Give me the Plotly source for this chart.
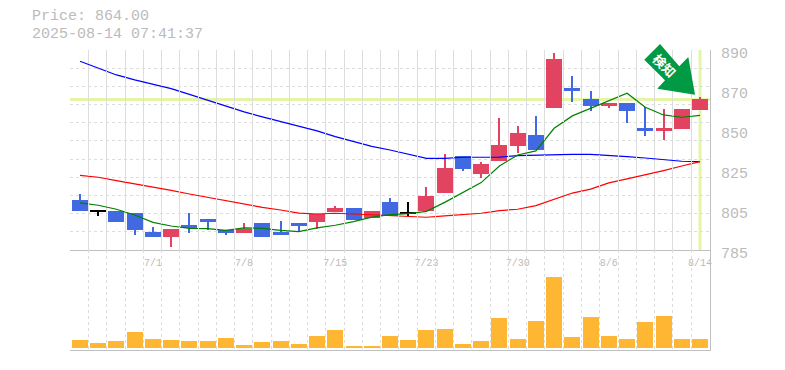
import plotly.graph_objects as go

# ---- data ----
dates = ["6/25","6/26","6/27","6/30","7/1","7/2","7/3","7/4","7/7","7/8","7/9","7/10","7/11","7/14","7/15",
         "7/16","7/17","7/18","7/22","7/23","7/24","7/25","7/28","7/29","7/30","7/31","8/1","8/4","8/5","8/6",
         "8/7","8/8","8/12","8/13","8/14"]
opens = [811.2,805.3,805.3,804.4,794.5,791.8,798.1,801.3,795.5,794.0,799.2,794.5,799.2,799.7,805.0,
         807.0,801.8,810.2,804.3,805.5,814.9,834.4,824.9,831.7,839.6,845.4,859.6,870.0,864.3,860.6,
         862.2,849.0,847.5,848.5,858.5]
highs = [814.4,805.3,805.3,804.4,797.1,796.0,804.4,801.3,795.5,799.2,799.2,800.2,799.2,803.9,808.1,
         807.0,805.5,812.3,810.2,818.1,835.4,834.4,831.2,854.3,850.0,855.4,888.4,876.4,868.5,862.2,
         862.2,860.0,859.0,859.0,865.3]
lows = [805.5,803.0,799.7,792.9,791.8,786.6,794.0,795.5,792.9,794.0,791.8,792.9,794.6,795.9,805.0,
        800.8,801.8,802.9,802.9,805.5,814.9,826.5,822.8,831.7,835.9,837.5,859.6,862.7,858.0,859.6,
        851.7,844.9,842.8,848.5,858.5]
closes = [805.5,805.3,799.7,795.5,791.8,796.0,796.5,799.7,794.0,796.0,791.8,792.9,797.6,803.9,807.0,
          800.8,805.5,802.9,804.3,813.4,828.0,827.5,830.2,840.1,846.4,837.5,885.3,868.5,860.6,862.2,
          858.0,847.5,849.0,859.0,864.3]
ma_short = [809.7,808.5,806.4,803.4,799.5,797.6,796.4,796.2,795.3,796.6,796.4,795.3,794.6,796.6,798.0,
            799.9,802.3,803.6,804.1,805.3,810.0,815.1,820.4,829.1,834.9,837.0,848.9,855.4,859.4,863.2,
            867.3,859.9,855.9,854.7,855.7]
ma_mid = [824.2,823.2,821.4,819.8,817.9,816.3,814.4,812.7,810.7,809.0,807.4,806.0,804.4,803.9,804.3,
          803.9,803.4,803.0,802.7,802.2,802.9,803.7,804.3,805.7,806.4,808.3,811.8,814.9,817.0,820.2,
          822.3,824.4,826.7,829.1,831.4]
ma_long = [884.1,880.4,876.9,874.3,872.0,869.7,866.7,863.6,860.3,857.5,854.9,852.4,849.9,847.5,844.5,
           841.9,839.4,837.5,835.4,833.1,833.1,833.7,833.7,833.8,834.5,834.7,835.2,835.2,835.2,834.7,
           834.0,833.3,832.4,831.6,831.4]
volumes = [8,5,7,16,9,8,7,7,10,3,6,7,4,12,18,2,2,12,8,18,19,4,7,30,9,27,71,11,31,12,9,26,32,9,9]
price = 864.00
stamp = "2025-08-14 07:41:37"
tick_dates = ["7/1","7/8","7/15","7/23","7/30","8/6","8/14"]
price_ticks = [785, 806, 827, 848, 869, 890]
price_tick_text = ["785", "805", "825", "850", "870", "890"]
alert_label = "検知"

# ---- styling ----
RED, BLUE, BLACK = "#E24361", "#4169E1", "#000000"
GRID, AXIS, TEXT = "#DDDDDD", "#C0C0C0", "#BBBBBB"
HILITE = "#E4F5A8"
MONO = "Liberation Mono, monospace"

n = len(dates)
idx = list(range(n))
PX_STEP = 18.235            # pixels per session
X0 = 80.0                   # pixel centre of session 0
to_x = lambda px: (px - X0) / PX_STEP
px_x = lambda px: (px - 70) / 640
px_y = lambda py: (350 - py) / 300
grid_x = [to_x(70.3 + 18.257 * k) for k in range(n + 1)]
grid_y = [785 + 105 * k / 11 for k in range(12)]
UNIT_PER_PX = 105 / 200
LABEL_DROP = 3 / 300        # price labels sit slightly below their gridline, as in the reference

def colour(o, c):
    return BLACK if abs(o - c) < 0.1 else (RED if c > o else BLUE)
colours = [colour(o, c) for o, c in zip(opens, closes)]

fig = go.Figure()
# wicks
fig.add_trace(go.Bar(x=idx, y=[h - l for h, l in zip(highs, lows)], base=lows, width=1.0 / PX_STEP,
                     marker=dict(color=colours, line_width=0), xaxis="x", yaxis="y", showlegend=False))
# bodies
fig.add_trace(go.Bar(x=idx, y=[max(abs(o - c), UNIT_PER_PX) for o, c in zip(opens, closes)],
                     base=[min(o, c) for o, c in zip(opens, closes)], width=16.0 / PX_STEP,
                     marker=dict(color=colours, line_width=0), xaxis="x", yaxis="y", showlegend=False))
for vals, col in [(ma_long, "#0000FF"), (ma_mid, "#FF0000"), (ma_short, "#008000")]:
    fig.add_trace(go.Scatter(x=idx, y=vals, mode="lines", line=dict(color=col, width=1.2),
                             xaxis="x", yaxis="y", showlegend=False))
# volume
fig.add_trace(go.Bar(x=idx, y=volumes, width=16.0 / PX_STEP, marker=dict(color="#FFB733", line_width=0),
                     xaxis="x2", yaxis="y2", showlegend=False))
# carrier for the price label axis
fig.add_trace(go.Scatter(x=[0], y=[price], mode="none", xaxis="x", yaxis="y3", showlegend=False, hoverinfo="skip"))

x_range = [to_x(70), to_x(710)]
fig.update_layout(
    width=785, height=370, autosize=False,
    margin=dict(l=70, r=75, t=50, b=20, pad=0, autoexpand=False),
    paper_bgcolor="white", plot_bgcolor="rgba(0,0,0,0)", barmode="overlay", bargap=0,
    xaxis=dict(domain=[0, 1], range=x_range, anchor="y", tickmode="array", automargin=False,
               tickvals=[dates.index(d) for d in tick_dates], ticktext=tick_dates,
               showgrid=False, zeroline=False, ticks="", showline=True, linecolor=AXIS, linewidth=1,
               ticklabelstandoff=3,
               tickfont=dict(family=MONO, size=10, color=TEXT), tickangle=0,
               minor=dict(tickmode="array", tickvals=grid_x, showgrid=True, gridcolor=GRID, griddash="3px,3px",
                          gridwidth=1, ticks="")),
    yaxis=dict(domain=[1 / 3, 1], range=[785, 890], anchor="x", side="right", showticklabels=False, automargin=False,
               showgrid=False, zeroline=False, ticks="", showline=True, linecolor=AXIS, linewidth=1,
               minor=dict(tickmode="array", tickvals=grid_y, showgrid=True, gridcolor=GRID, griddash="3px,3px",
                          gridwidth=1, ticks="")),
    yaxis3=dict(domain=[1 / 3 - LABEL_DROP, 1 - LABEL_DROP], range=[785, 890], anchor="x", side="right", automargin=False,
                tickmode="array", tickvals=price_ticks, ticktext=price_tick_text, showgrid=False, zeroline=False,
                ticks="", showline=False, ticklabelstandoff=10,
                tickfont=dict(family=MONO, size=15, color=TEXT)),
    xaxis2=dict(domain=[0, 1], range=x_range, anchor="y2", showticklabels=False, ticks="", zeroline=False, automargin=False,
                showgrid=False, showline=True, linecolor=AXIS, linewidth=1,
                minor=dict(tickmode="array", tickvals=grid_x, showgrid=True, gridcolor=GRID, griddash="3px,3px",
                           gridwidth=1, ticks="")),
    yaxis2=dict(domain=[0, 1 / 3], range=[-2, 98], anchor="x2", side="right", showticklabels=False, ticks="", automargin=False,
                showgrid=False, zeroline=False, showline=True, linecolor=AXIS, linewidth=1),
    shapes=[
        dict(type="line", xref="x", yref="y", x0=x_range[0], x1=x_range[1], y0=price, y1=price,
             line=dict(color=HILITE, width=3), layer="below"),
        dict(type="line", xref="x", yref="y", x0=n - 1, x1=n - 1, y0=785, y1=890,
             line=dict(color=HILITE, width=3), layer="below"),
        dict(type="path", xref="paper", yref="paper", fillcolor="#009944", line_width=0, layer="above",
             path="M " + " L ".join(f"{px_x(a):.4f},{px_y(b):.4f}" for a, b in
                                    [(660, 44), (644.3, 59.7), (665, 80.3), (657.3, 88.7),
                                     (695, 94.7), (688.3, 57), (679.3, 66.3)]) + " Z"),
    ],
    annotations=[
        dict(text=f"Price: {price:.2f}", xref="paper", yref="paper", x=px_x(30), y=px_y(17), xanchor="left",
             yanchor="middle", showarrow=False, font=dict(family=MONO, size=15, color=TEXT)),
        dict(text=stamp, xref="paper", yref="paper", x=px_x(30), y=px_y(34), xanchor="left",
             yanchor="middle", showarrow=False, font=dict(family=MONO, size=15, color=TEXT)),
        dict(text=f"<b>{alert_label}</b>", xref="paper", yref="paper", x=px_x(665), y=px_y(65), xanchor="center",
             yanchor="middle", showarrow=False, textangle=45,
             font=dict(family="Noto Sans CJK JP", size=13, color="white")),
    ],
)
fig.write_html("out.html", config={"displayModeBar": False},
               post_script="document.body.style.margin='0';")
